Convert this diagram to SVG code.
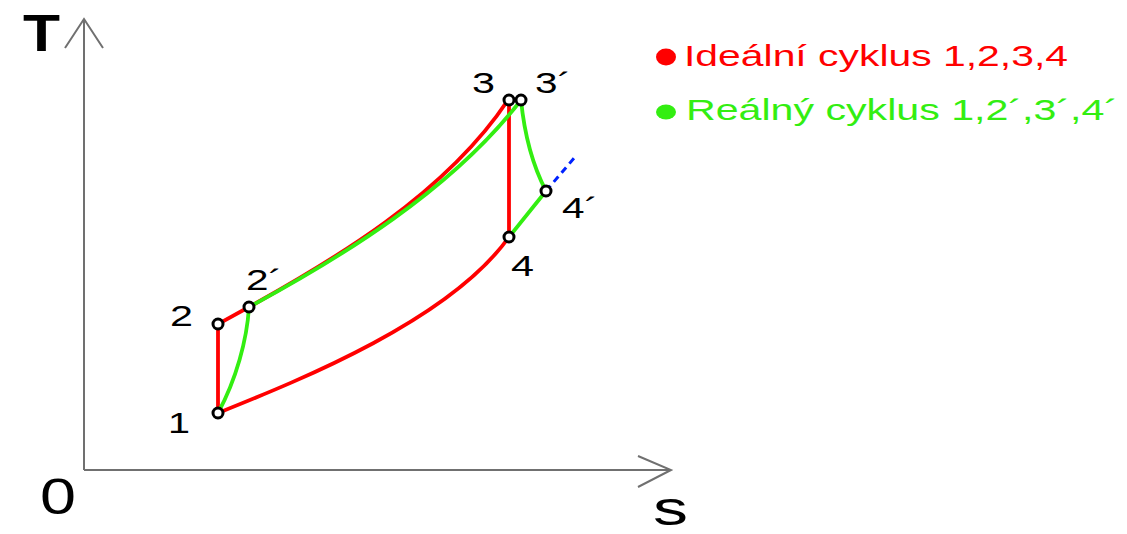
<svg xmlns="http://www.w3.org/2000/svg" width="1127" height="534" viewBox="0 0 1127 534">
<style>
.ax{stroke:#707070;stroke-width:2;fill:none}
.red{stroke:#ff0000;stroke-width:3.8;fill:none;stroke-linecap:round}
.grn{stroke:#33ee11;stroke-width:3.8;fill:none;stroke-linecap:round}
.blu{stroke:#0022ff;stroke-width:3;fill:none;stroke-dasharray:7 5}
.pt{fill:#fff;stroke:#000;stroke-width:3}
.lb{font-family:"Liberation Sans",Arial,sans-serif;font-size:29px;fill:#000}
.lg{font-family:"Liberation Sans",Arial,sans-serif;font-size:30px}
</style>
<rect width="1127" height="534" fill="#fff"/>
<g id="axes">
<line class="ax" x1="84" y1="470" x2="84" y2="19"/>
<polyline class="ax" points="65,48 84,19 103,48"/>
<line class="ax" x1="84" y1="470" x2="671" y2="470"/>
<polyline class="ax" points="638,456 671,470 638,487"/>
<text x="23" y="51" font-family="Liberation Sans,Arial,sans-serif" font-size="52" font-weight="bold" textLength="37" lengthAdjust="spacingAndGlyphs">T</text>
<text x="40" y="514" font-family="Liberation Sans,Arial,sans-serif" font-size="50" textLength="36" lengthAdjust="spacingAndGlyphs">0</text>
<text x="653" y="525" font-family="Liberation Sans,Arial,sans-serif" font-size="48" textLength="35" lengthAdjust="spacingAndGlyphs">s</text>
</g>
<g id="connectors">
<path class="red" d="M218,413 C300,380 450,320 509,237"/>
<path class="red" d="M218,413 L218,324 L249,307"/>
<path class="red" d="M249,307 C330,262 445,195 508,100"/>
<line class="red" x1="509" y1="100" x2="509" y2="237"/>
<path class="grn" d="M218,413 C236,380 247,340 249,307"/>
<path class="grn" d="M249,307 C340,258 452,190 521,100"/>
<path class="grn" d="M521,100 C525,140 535,170 546,191"/>
<line class="grn" x1="546" y1="191" x2="509" y2="237"/>
<line class="blu" x1="546" y1="191" x2="575" y2="157"/>
</g>
<g id="p1"><circle class="pt" cx="218" cy="413" r="5"/><text class="lb" x="168" y="433" textLength="22" lengthAdjust="spacingAndGlyphs">1</text></g>
<g id="p2"><circle class="pt" cx="218" cy="324" r="5"/><text class="lb" x="170" y="326" textLength="23" lengthAdjust="spacingAndGlyphs">2</text></g>
<g id="p2p"><circle class="pt" cx="249" cy="307" r="5"/><text class="lb" x="246" y="290" textLength="36" lengthAdjust="spacingAndGlyphs">2´</text></g>
<g id="p3"><circle class="pt" cx="509" cy="100" r="5"/><text class="lb" x="472" y="93" textLength="23" lengthAdjust="spacingAndGlyphs">3</text></g>
<g id="p3p"><circle class="pt" cx="521" cy="100" r="5"/><text class="lb" x="535" y="93" textLength="36" lengthAdjust="spacingAndGlyphs">3´</text></g>
<g id="p4"><circle class="pt" cx="509" cy="237" r="5"/><text class="lb" x="511" y="276" textLength="23" lengthAdjust="spacingAndGlyphs">4</text></g>
<g id="p4p"><circle class="pt" cx="546" cy="191" r="5"/><text class="lb" x="562" y="218" textLength="36" lengthAdjust="spacingAndGlyphs">4´</text></g>
<g id="legend">
<ellipse cx="666" cy="57" rx="10" ry="8.5" fill="#ff0000"/>
<text class="lg" x="684" y="66" fill="#ff0000" textLength="384" lengthAdjust="spacingAndGlyphs">Ideální cyklus 1,2,3,4</text>
<ellipse cx="666" cy="112" rx="10" ry="7.5" fill="#33ee11"/>
<text class="lg" x="686" y="120" fill="#33ee11" textLength="432" lengthAdjust="spacingAndGlyphs">Reálný cyklus 1,2´,3´,4´</text>
</g>
</svg>
